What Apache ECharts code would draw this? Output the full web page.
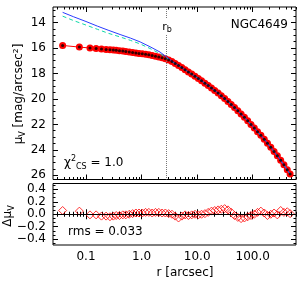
<!DOCTYPE html>
<html><head><meta charset="utf-8">
<script src="https://cdn.jsdelivr.net/npm/echarts@6/dist/echarts.min.js"></script>
<style>html,body{margin:0;padding:0;background:#fff}#c{width:300px;height:285px}</style>
</head><body><div id="c"></div>
<script>
// ---- data ----
const radii = [0.038,0.076,0.118,0.152,0.19,0.23,0.27,0.31,0.35,0.40,0.46,0.52,0.60,0.69,0.79,0.90,1.03,1.18,1.35,1.55,1.78,2.04,2.34,2.68,3.07,3.52,4.03,4.62,5.30,6.07,6.96,7.98,9.14,10.5,12.0,13.8,15.8,18.1,20.7,23.8,27.2,31.2,35.8,41.0,47.0,53.9,61.7,70.8,81.1,93.0,106.6,122,140,161,184,211,242,277,318,364,418,470];
const muData = [15.80,15.93,16.00,16.04,16.08,16.11,16.14,16.16,16.18,16.21,16.24,16.27,16.31,16.35,16.39,16.43,16.46,16.50,16.54,16.59,16.64,16.70,16.76,16.84,16.94,17.07,17.22,17.38,17.54,17.71,17.88,18.05,18.22,18.39,18.57,18.76,18.95,19.14,19.33,19.54,19.75,19.97,20.20,20.44,20.68,20.93,21.19,21.45,21.72,22.00,22.28,22.57,22.86,23.17,23.48,23.80,24.13,24.47,24.82,25.18,25.56,25.90];
const residuals = [0.06,0.05,-0.01,-0.01,-0.03,-0.03,-0.04,-0.03,-0.02,-0.02,-0.01,-0.01,0.00,0.01,0.02,0.02,0.02,0.03,0.03,0.02,0.03,0.03,0.02,0.02,0.01,0.00,-0.03,-0.06,-0.03,-0.01,-0.02,-0.01,0.00,-0.01,0.00,0.01,0.03,0.05,0.06,0.07,0.08,0.09,0.07,0.03,-0.02,-0.05,-0.07,-0.06,-0.04,-0.02,0.00,0.03,0.05,0.02,-0.02,0.00,0.02,-0.01,0.06,0.03,0.04,0.01];
const fitRadii = [0.038,0.06,0.1,0.16,0.25,0.41,0.63,0.94,1.42,2.15,2.65,3.52,4.62,6.07,7.98,10.5,13.8,18.1,23.8,31.2,41.0,53.9,70.8,93.0,122,161,211,277,364,470];
const muBlue = [13.20,13.55,13.92,14.28,14.60,14.94,15.22,15.52,15.90,16.32,16.62,17.03,17.38,17.71,18.05,18.39,18.76,19.14,19.54,19.97,20.44,20.93,21.45,22.00,22.57,23.17,23.80,24.47,25.18,25.90];
const muCyan = [13.50,13.85,14.20,14.53,14.84,15.13,15.40,15.68,16.04,16.45,16.72,17.08,17.40,17.72,18.06,18.40,18.77,19.15,19.55,19.98,20.45,20.94,21.46,22.01,22.58,23.18,23.81,24.48,25.19,25.91];
const rBreak = 2.73;
const xMajor = [0.1, 1, 10, 100];
const xLabels = ['0.1', '1.0', '10.0', '100.0'];
const yTopMajor = [14, 16, 18, 20, 22, 24, 26];
const yBotMajor = [-0.4, -0.2, 0.0, 0.2, 0.4];
const yBotLabels = ['\u22120.4', '\u22120.2', '0.0', '0.2', '0.4'];

// ---- tick helpers ----
const xMinor = [];
[0.01, 0.1, 1, 10, 100].forEach(d => { for (let k = 2; k <= 9; k++) xMinor.push(+(k * d).toPrecision(3)); });
const yTopMinor = [];
for (let v = 13; v <= 26.01; v += 0.5) yTopMinor.push(+v.toFixed(2));
const yBotMinor = [];
for (let k = -7; k <= 7; k++) yBotMinor.push(+(k * 0.2 / 3).toFixed(4));

const FONT = 'DejaVu Sans';
const XMIN = 0.0255, XMAX = 600;
const YT = [12.78, 26.33], YB = [-0.493, 0.493];

function xAx(grid, pos, vals, len, labels) {
  return {type: 'log', logBase: 10, gridIndex: grid, position: pos, min: XMIN, max: XMAX,
    axisLine: {show: false}, splitLine: {show: false},
    axisTick: {show: true, inside: true, length: len, customValues: vals, lineStyle: {color: '#000', width: 1}},
    axisLabel: labels ? {show: true, customValues: xMajor, margin: 6, color: '#000', fontFamily: FONT, fontSize: 12,
      formatter: v => xLabels[xMajor.findIndex(m => Math.abs(m - v) / m < 1e-6)]} : {show: false}};
}
function yAx(grid, pos, vals, len, ext, inv, labelVals, labelTxt) {
  return {type: 'value', gridIndex: grid, position: pos, min: ext[0], max: ext[1], inverse: inv,
    axisLine: {show: false}, splitLine: {show: false},
    axisTick: {show: true, inside: true, length: len, customValues: vals, lineStyle: {color: '#000', width: 1}},
    axisLabel: labelVals ? {show: true, customValues: labelVals, margin: 7, color: '#000', fontFamily: FONT, fontSize: 12,
      formatter: v => labelTxt[labelVals.findIndex(m => Math.abs(m - v) < 1e-6)]} : {show: false}};
}

const xAxes = [
  xAx(0, 'bottom', xMajor, 5, false), // 0
  xAx(0, 'bottom', xMinor, 2.5, false),
  xAx(0, 'top', xMajor, 5, false),
  xAx(0, 'top', xMinor, 2.5, false),
  xAx(1, 'bottom', xMajor, 5, true), // 4
  xAx(1, 'bottom', xMinor, 2.5, false),
  xAx(1, 'top', xMajor, 5, false),
  xAx(1, 'top', xMinor, 2.5, false)
];
const yAxes = [
  yAx(0, 'left', yTopMajor, 5, YT, true, yTopMajor, yTopMajor.map(String)), // 0
  yAx(0, 'left', yTopMinor, 2.5, YT, true),
  yAx(0, 'right', yTopMajor, 5, YT, true),
  yAx(0, 'right', yTopMinor, 2.5, YT, true),
  yAx(1, 'left', yBotMajor, 5, YB, false, yBotMajor, yBotLabels), // 4
  yAx(1, 'left', yBotMinor, 2.5, YB, false),
  yAx(1, 'right', yBotMajor, 5, YB, false),
  yAx(1, 'right', yBotMinor, 2.5, YB, false)
];

const dataPts = radii.map((r, i) => [r, muData[i]]);
const residPts = radii.map((r, i) => [r, residuals[i]]);
const bluePts = fitRadii.map((r, i) => [r, muBlue[i]]);
const cyanPts = fitRadii.map((r, i) => [r, muCyan[i]]);

const chart = echarts.init(document.getElementById('c'), null, {renderer: 'canvas'});
chart.setOption({
  animation: false,
  grid: [
    {left: 53, top: 7, width: 243, height: 172.5, show: true, borderColor: '#000', borderWidth: 1, backgroundColor: 'transparent'},
    {left: 53, top: 183.5, width: 243, height: 61.5, show: true, borderColor: '#000', borderWidth: 1, backgroundColor: 'transparent'}
  ],
  xAxis: xAxes,
  yAxis: yAxes,
  series: [
    {type: 'line', xAxisIndex: 0, yAxisIndex: 0, data: dataPts, symbol: 'circle', symbolSize: 7,
      itemStyle: {color: '#ff0000'}, lineStyle: {color: '#ff0000', width: 1}, z: 2,
      markLine: {silent: true, symbol: 'none', label: {show: false},
        lineStyle: {color: '#777', type: 'dotted', width: 1}, data: [{xAxis: rBreak}]}},
    {type: 'line', xAxisIndex: 0, yAxisIndex: 0, data: cyanPts, showSymbol: false, symbol: 'none',
      lineStyle: {color: '#10d8a8', width: 1, type: [4, 3]}, z: 3},
    {type: 'line', xAxisIndex: 0, yAxisIndex: 0, data: bluePts, showSymbol: false, symbol: 'none',
      lineStyle: {color: '#2a3cff', width: 1}, z: 4},
    {type: 'scatter', xAxisIndex: 0, yAxisIndex: 0, data: dataPts, symbol: 'circle', symbolSize: 3,
      itemStyle: {color: '#000'}, z: 5},
    {type: 'scatter', xAxisIndex: 4, yAxisIndex: 4, data: residPts, symbol: 'diamond', symbolSize: 8,
      itemStyle: {color: 'rgba(0,0,0,0)', borderColor: '#ff0000', borderWidth: 1}, z: 3,
      markLine: {silent: true, symbol: 'none', label: {show: false},
        lineStyle: {color: '#000', type: 'solid', width: 1}, data: [{yAxis: 0}]}}
  ],
  graphic: [
    {type: 'text', x: 288, y: 25, z: 10, style: {text: 'NGC4649', font: '12px "DejaVu Sans"', fill: '#000', align: 'right', verticalAlign: 'middle'}},
    {type: 'text', x: 167, y: 27, z: 10, style: {text: '{m|r}{s|b}', align: 'center', verticalAlign: 'middle',
      backgroundColor: '#fff', padding: [1, 0, 1, 0],
      rich: {m: {fontFamily: FONT, fontSize: 11, lineHeight: 14, fill: '#000'}, s: {fontFamily: FONT, fontSize: 8, lineHeight: 8, verticalAlign: 'bottom', fill: '#000'}}}},
    {type: 'text', x: 64, y: 163, z: 10, style: {text: '{m|\u03c7}{p|2}{s|CS}{m| = 1.0}', align: 'left', verticalAlign: 'middle',
      rich: {m: {fontFamily: FONT, fontSize: 12, lineHeight: 16, fill: '#000'}, p: {fontFamily: FONT, fontSize: 8, lineHeight: 8, verticalAlign: 'top', fill: '#000'},
        s: {fontFamily: FONT, fontSize: 8, lineHeight: 8, verticalAlign: 'bottom', fill: '#000'}}}},
    {type: 'text', x: 68, y: 232, z: 10, style: {text: 'rms = 0.033', font: '12px "DejaVu Sans"', fill: '#000', align: 'left', verticalAlign: 'middle'}},
    {type: 'text', x: 185, y: 273, z: 10, style: {text: 'r [arcsec]', font: '12px "DejaVu Sans"', fill: '#000', align: 'center', verticalAlign: 'middle'}},
    {type: 'text', x: 19, y: 94, rotation: Math.PI / 2, z: 10, style: {text: '{m|\u03bc}{s|V}{m| [mag/arcsec\u00b2]}', align: 'center', verticalAlign: 'middle',
      rich: {m: {fontFamily: FONT, fontSize: 12, lineHeight: 16, fill: '#000'}, s: {fontFamily: FONT, fontSize: 8, lineHeight: 8, verticalAlign: 'bottom', fill: '#000'}}}},
    {type: 'text', x: 8, y: 216, rotation: Math.PI / 2, z: 10, style: {text: '{m|\u0394\u03bc}{s|V}', align: 'center', verticalAlign: 'middle',
      rich: {m: {fontFamily: FONT, fontSize: 12, lineHeight: 16, fill: '#000'}, s: {fontFamily: FONT, fontSize: 8, lineHeight: 8, verticalAlign: 'bottom', fill: '#000'}}}}
  ]
});
</script></body></html>
